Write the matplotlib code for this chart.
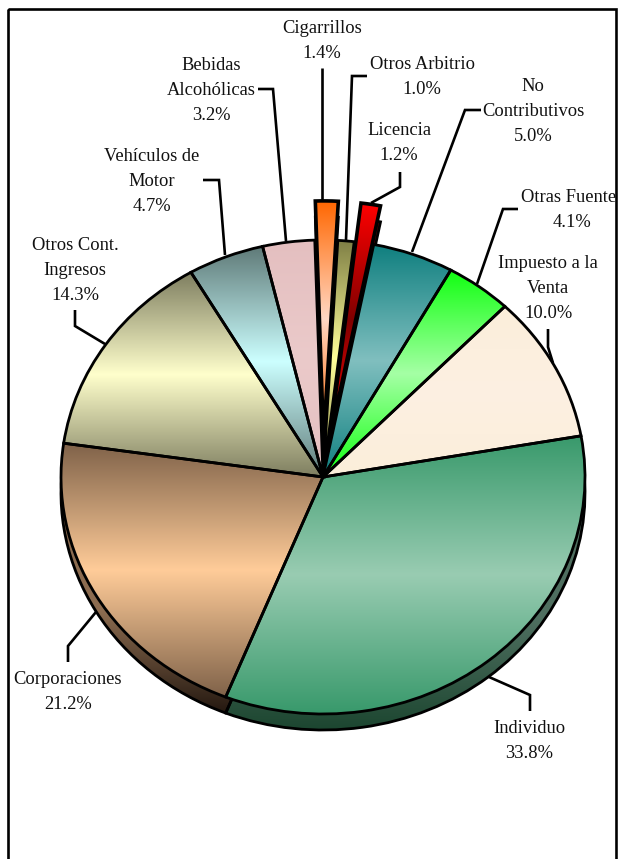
import numpy as np
import matplotlib
matplotlib.use("Agg")
import matplotlib.pyplot as plt
from matplotlib.colors import to_rgb
from matplotlib.patches import Rectangle

plt.rcParams['font.family'] = ['Liberation Serif', 'DejaVu Serif']

# Share of revenue by source, clockwise from Individuo
categories = ['Individuo', 'Corporaciones', 'Otros Cont.\nIngresos', 'Vehículos de\nMotor',
              'Bebidas\nAlcohólicas', 'Cigarrillos', 'Otros Arbitrio', 'Licencia',
              'No\nContributivos', 'Otras Fuentes', 'Impuesto a la\nVenta']
values = [33.8, 21.2, 14.3, 4.7, 3.2, 1.4, 1.0, 1.2, 5.0, 4.1, 10.0]
explode = [0, 0, 0, 0, 0, 0.165, 0, 0.165, 0, 0, 0]

# gradient colours of each slice: band edge and band middle
edge_colors = ['#38996b', '#7f6249', '#7e7e60', '#5f7a78', '#e4bfc0', '#ff6600',
               '#7f7f45', '#ff0000', '#0f7f7f', '#11ff11', '#fbeeda']
mid_colors = ['#99ccb2', '#ffcc99', '#ffffcc', '#ccffff', '#ebcaca', '#ffd8c4',
              '#ffff99', '#800000', '#80bfbf', '#a5ffa5', '#fdf0e2']
# rim of the pie, top and bottom colour
rim_top = ['#4f6f60', '#8c6c50', '#000000', '#000000', '#000000', '#000000',
           '#000000', '#700000', '#000000', '#000000', '#000000']
rim_bottom = ['#1c4630', '#241810', '#000000', '#000000', '#000000', '#000000',
              '#000000', '#400000', '#000000', '#000000', '#000000']

# text label centres in pixels
label_x = [529, 68, 75, 152, 211, 322, 422, 399, 533, 572, 548]
label_y = [741, 692, 270.5, 181.5, 90.5, 41, 77, 143, 111.5, 210, 288.5]

# leader lines in pixels
leaders = [
    [(489, 677), (530, 695), (530, 711)],
    [(68, 662), (68, 646), (96, 612)],
    [(75, 310), (75, 326), (105, 344)],
    [(203, 180), (219, 180), (225, 255)],
    [(258, 89), (273, 89), (286, 241)],
    [(322, 68), (322, 201)],
    [(367, 76), (352, 76), (346, 240)],
    [(400, 172), (400, 187), (371, 203)],
    [(481, 110), (465, 110), (412, 252)],
    [(518, 209), (503, 209), (477, 284)],
    [(548, 329), (548, 347), (553, 363)],
]

W, H = 618, 859
CX, CY, RX, RY = 323, 477, 262, 237
DEPTH = 16 / RY
START = 10.0


def ramp(c_a, c_b):
    # c_a at both ends, c_b in the middle
    s = np.linspace(0, 1, 256)
    t = np.abs(2 * s - 1)
    a, b = np.array(to_rgb(c_a)), np.array(to_rgb(c_b))
    return (a[None, :] * t[:, None] + b[None, :] * (1 - t[:, None]))[:, None, :]


def rim_ramp(c_top, c_bottom):
    # flat over the upper part, then darkening to the bottom
    s = np.linspace(0, 1, 256)
    t = np.clip((1 - s) / 0.4, 0, 1)
    a, b = np.array(to_rgb(c_top)), np.array(to_rgb(c_bottom))
    return (a[None, :] * t[:, None] + b[None, :] * (1 - t[:, None]))[:, None, :]


def fill_gradient(ax, wedge, img, z):
    bb = wedge.get_path().get_extents(wedge.get_patch_transform())
    im = ax.imshow(img, extent=(bb.x0, bb.x1, bb.y0, bb.y1), origin='upper',
                   aspect='auto', interpolation='bilinear', zorder=z)
    im.set_clip_path(wedge)
    wedge.set_facecolor('none')
    wedge.set_zorder(z + 0.5)


fig = plt.figure(figsize=(W / 100, H / 100), dpi=100, facecolor='white')
ax = fig.add_axes([0, 0, 1, 1])
wedge_style = dict(edgecolor='black', linewidth=2.0, joinstyle='miter')

# rim first, the same pie pushed down
rim, _ = ax.pie(values, explode=explode, startangle=START, counterclock=False,
                center=(0, -DEPTH), wedgeprops=wedge_style)
for w, a, b in zip(rim, rim_top, rim_bottom):
    fill_gradient(ax, w, rim_ramp(a, b), 1)

top, _ = ax.pie(values, explode=explode, startangle=START, counterclock=False,
                wedgeprops=wedge_style)
for i, (w, a, b) in enumerate(zip(top, edge_colors, mid_colors)):
    fill_gradient(ax, w, ramp(a, b), 3 + i * 0.01)
    if explode[i] > 0:
        w.set_linewidth(2.6)

ax.set_aspect('auto')
ax.set_xlim(-CX / RX, (W - CX) / RX)
ax.set_ylim((CY - H) / RY, CY / RY)
ax.axis('off')

# overlay in pixel coordinates for frame, leaders and labels
ov = fig.add_axes([0, 0, 1, 1], facecolor='none')
ov.set_xlim(0, W)
ov.set_ylim(H, 0)
ov.axis('off')

frame = Rectangle((7.5, 9), 608.5, H + 20, fill=False, edgecolor='black', linewidth=1.9)
ov.add_patch(frame)
ov.plot([617.6, 617.6], [9, H], color='#b0b0b0', lw=0.8)

for pts in leaders:
    xs, ys = zip(*pts)
    ov.plot(xs, ys, color='black', lw=1.9, solid_joinstyle='miter', solid_capstyle='butt')

for name, v, x, y in zip(categories, values, label_x, label_y):
    t = ov.text(x, y, f'{name}\n{v:.1f}%', ha='center', va='center', ma='center',
                fontsize=13.3, linespacing=1.6, color='#111111')
    t.set_clip_path(frame)
    t.set_clip_on(True)

fig.savefig('out.png', dpi=100)
